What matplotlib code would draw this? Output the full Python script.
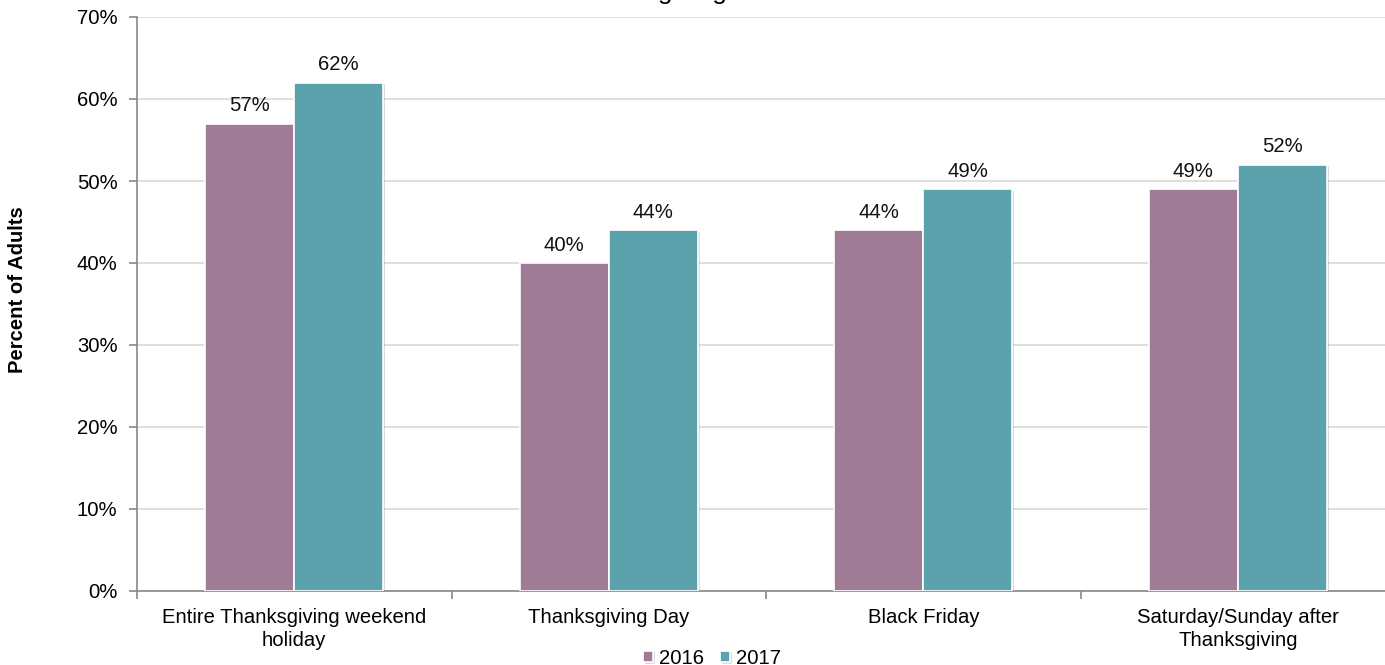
import numpy as np
import matplotlib.pyplot as plt
import matplotlib.patheffects as pe

plt.rcParams["font.family"] = ["Liberation Sans", "DejaVu Sans"]

# data
categories = ["Entire Thanksgiving weekend\nholiday", "Thanksgiving Day",
              "Black Friday", "Saturday/Sunday after\nThanksgiving"]
pct_2016 = [57, 40, 44, 49]
pct_2017 = [62, 44, 49, 52]
years = ["2016", "2017"]
colors = ["#A07B96", "#5BA2AC"]

W, H = 1385, 665
fs = 14.6
fig = plt.figure(figsize=(W / 100, H / 100), dpi=100)
ax = fig.add_axes([137 / W, (H - 591) / H, (1395 - 137) / W, (591 - 17) / H])

x = np.arange(len(categories))
bw = 0.283
shadow = [pe.SimplePatchShadow(offset=(1.5, -1), shadow_rgbFace="#999999", alpha=0.35),
          pe.Normal()]
b1 = ax.bar(x - bw / 2, pct_2016, bw, color=colors[0], edgecolor="white",
            linewidth=1.2, label=years[0], zorder=3)
b2 = ax.bar(x + bw / 2, pct_2017, bw, color=colors[1], edgecolor="white",
            linewidth=1.2, label=years[1], zorder=3)
for r in list(b1) + list(b2):
    r.set_path_effects(shadow)

for bars, vals in [(b1, pct_2016), (b2, pct_2017)]:
    for r, v in zip(bars, vals):
        ax.text(r.get_x() + r.get_width() / 2, v + 1.0, f"{v}%",
                ha="center", va="bottom", fontsize=fs, color="#111111")

ax.set_xlim(-0.5, len(categories) - 0.5)
ax.set_ylim(0, 70)
ax.set_yticks(range(0, 71, 10))
ax.set_yticklabels([f"{t}%" for t in range(0, 71, 10)], fontsize=fs)
ax.yaxis.grid(True, color="#D9D9D9", linewidth=1.2, zorder=0)

# category labels centred, tick marks on group boundaries
ax.set_xticks(x)
ax.set_xticklabels(categories, fontsize=fs, linespacing=1.3)
ax.tick_params(axis="x", length=0, pad=12)
ax.set_xticks(np.arange(-0.5, len(categories), 1), minor=True)
ax.tick_params(axis="x", which="minor", length=6, color="#888888", width=1.2)
ax.tick_params(axis="y", length=6, color="#888888", width=1.2, pad=8)

for s in ["top", "right"]:
    ax.spines[s].set_visible(False)
for s in ["left", "bottom"]:
    ax.spines[s].set_color("#888888")
    ax.spines[s].set_linewidth(1.2)

fig.text(18 / W, (H - 290) / H, "Percent of Adults", rotation=90, ha="center",
         va="center", fontsize=fs, fontweight="bold")

fig.text(649 / W, 1 + 1 / H, "Thanksgiving", ha="center", va="baseline",
         fontsize=19)

ax.legend(loc="center", bbox_to_anchor=((712 - 137) / (1395 - 137), -0.117),
          ncol=2, frameon=False, fontsize=fs, handlelength=0.5, handleheight=0.5,
          handletextpad=0.3, columnspacing=0.8)

fig.savefig("out.png", dpi=100)
